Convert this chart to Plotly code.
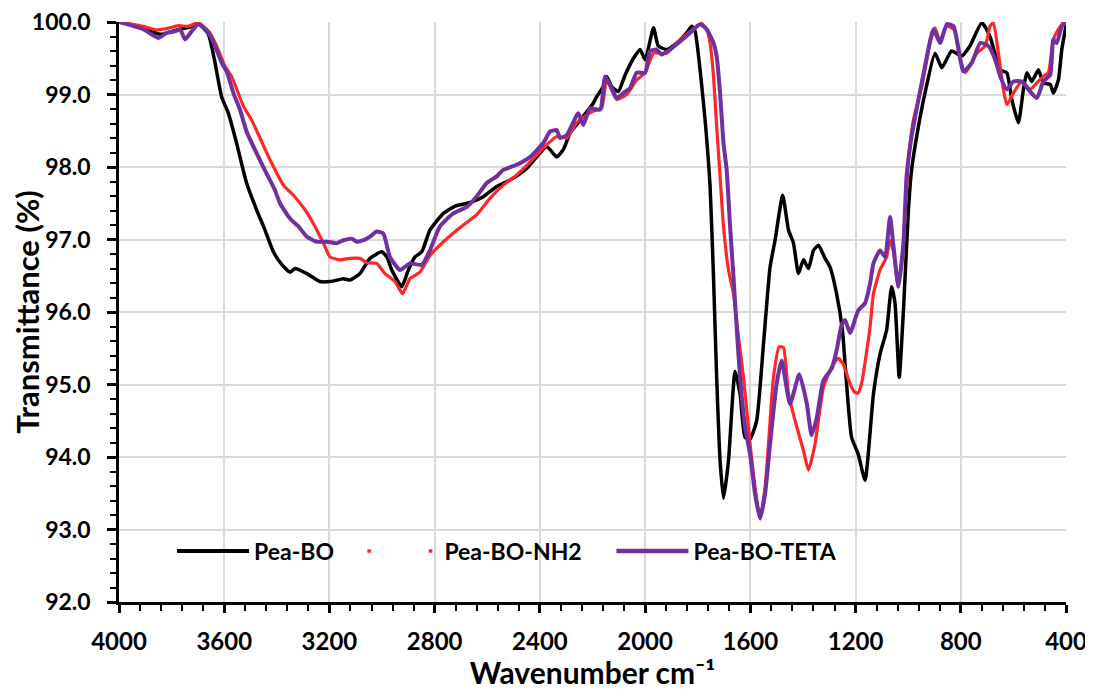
import plotly.graph_objects as go

# ---------------- data ----------------
wn_bo = [4000, 3908, 3844, 3800, 3768, 3730, 3698, 3660, 3635, 3610, 3584, 3553, 3515, 3477, 3445,
         3413, 3380, 3350, 3331, 3286, 3236, 3198, 3160, 3147, 3122, 3084, 3046, 3001, 2982, 2963,
         2925, 2900, 2875, 2849, 2818, 2767, 2722, 2665, 2615, 2564, 2513, 2450, 2374, 2336, 2311,
         2285, 2235, 2197, 2184, 2159, 2146, 2127, 2102, 2076, 2044, 2019, 2000, 1968, 1950, 1918,
         1880, 1842, 1823, 1810, 1791, 1772, 1753, 1740, 1728, 1715, 1702, 1683, 1658, 1639, 1620,
         1601, 1576, 1550, 1525, 1506, 1477, 1455, 1436, 1417, 1398, 1379, 1360, 1341, 1316, 1297,
         1272, 1250, 1234, 1215, 1190, 1164, 1132, 1107, 1082, 1063, 1050, 1034, 1018, 999, 987,
         961, 936, 898, 872, 835, 797, 765, 720, 689, 650, 625, 606, 581, 562, 549,
         530, 505, 486, 460, 448, 429, 416, 400]
t_bo = [100.0, 99.92, 99.83, 99.87, 99.90, 99.93, 99.98, 99.83, 99.44, 98.97, 98.74, 98.33, 97.78, 97.41, 97.13,
        96.83, 96.65, 96.55, 96.60, 96.53, 96.42, 96.42, 96.45, 96.46, 96.44, 96.53, 96.74, 96.83, 96.76, 96.58,
        96.35, 96.58, 96.76, 96.83, 97.13, 97.36, 97.46, 97.51, 97.59, 97.73, 97.82, 97.98, 98.28, 98.14, 98.24,
        98.47, 98.70, 98.88, 98.97, 99.11, 99.25, 99.11, 99.04, 99.27, 99.50, 99.62, 99.48, 99.92, 99.67, 99.62,
        99.71, 99.85, 99.94, 99.87, 99.34, 98.65, 97.73, 96.48, 95.10, 93.95, 93.43, 93.95, 95.18, 94.87, 94.27,
        94.25, 94.50, 95.56, 96.62, 96.99, 97.61, 97.13, 96.95, 96.53, 96.72, 96.60, 96.85, 96.92, 96.74, 96.62,
        96.25, 95.75, 95.00, 94.27, 94.04, 93.68, 94.87, 95.42, 95.75, 96.35, 96.12, 95.10, 96.02, 97.41, 97.96,
        98.56, 99.02, 99.57, 99.37, 99.60, 99.53, 99.67, 99.99, 99.80, 99.34, 99.30, 98.93, 98.61, 99.07, 99.30,
        99.18, 99.34, 99.16, 99.14, 99.02, 99.20, 99.62, 99.95]

wn_nh2 = [4000, 3908, 3857, 3806, 3775, 3737, 3698, 3654, 3629, 3597, 3572, 3527, 3496, 3464, 3426,
          3375, 3337, 3293, 3255, 3223, 3198, 3160, 3122, 3084, 3058, 3020, 2989, 2951, 2922, 2894,
          2856, 2818, 2754, 2691, 2641, 2589, 2539, 2488, 2437, 2387, 2336, 2298, 2260, 2222, 2184,
          2165, 2146, 2108, 2070, 2032, 2000, 1968, 1943, 1918, 1880, 1842, 1804, 1785, 1766, 1753,
          1740, 1728, 1715, 1702, 1683, 1664, 1645, 1626, 1601, 1582, 1563, 1544, 1531, 1512, 1490,
          1474, 1455, 1423, 1398, 1379, 1354, 1322, 1291, 1266, 1245, 1225, 1205, 1190, 1175, 1160,
          1145, 1132, 1107, 1082, 1069, 1057, 1037, 1018, 999, 980, 948, 917, 898, 879, 853,
          827, 802, 783, 758, 739, 707, 689, 676, 657, 638, 625, 600, 568, 536, 511,
          486, 467, 448, 429, 410, 400]
t_nh2 = [100.0, 99.94, 99.89, 99.92, 99.95, 99.94, 99.99, 99.85, 99.67, 99.39, 99.25, 98.84, 98.65, 98.40, 98.10,
         97.75, 97.61, 97.41, 97.18, 96.95, 96.76, 96.72, 96.74, 96.74, 96.68, 96.67, 96.53, 96.42, 96.25, 96.46,
         96.55, 96.78, 97.01, 97.20, 97.34, 97.57, 97.75, 97.89, 98.07, 98.26, 98.42, 98.40, 98.61, 98.72, 98.79,
         98.81, 99.20, 98.93, 99.00, 99.20, 99.30, 99.57, 99.57, 99.57, 99.71, 99.83, 99.94, 99.98, 99.90, 99.71,
         99.25, 98.56, 97.87, 97.18, 96.58, 96.25, 95.65, 95.10, 94.18, 93.58, 93.15, 93.58, 94.18, 95.10, 95.52,
         95.51, 94.87, 94.41, 94.09, 93.82, 94.18, 94.96, 95.24, 95.36, 95.27, 95.05, 94.90, 94.88, 95.05, 95.40,
         95.79, 96.25, 96.58, 96.76, 96.99, 96.85, 96.35, 96.95, 98.10, 98.65, 99.11, 99.71, 99.92, 99.73, 99.94,
         99.90, 99.48, 99.30, 99.44, 99.57, 99.67, 99.94, 99.99, 99.57, 99.07, 98.86, 99.02, 99.18, 99.07, 99.16,
         99.25, 99.30, 99.76, 99.90, 99.99, 100.0]

wn_teta = [4000, 3908, 3851, 3819, 3787, 3768, 3749, 3724, 3698, 3660, 3635, 3610, 3591, 3565, 3540,
           3515, 3477, 3439, 3407, 3388, 3350, 3318, 3286, 3248, 3210, 3172, 3147, 3115, 3096, 3071,
           3046, 3020, 2995, 2970, 2932, 2894, 2849, 2818, 2780, 2729, 2678, 2641, 2602, 2564, 2539,
           2488, 2437, 2387, 2361, 2336, 2323, 2298, 2254, 2235, 2209, 2171, 2152, 2127, 2108, 2083,
           2057, 2032, 2000, 1981, 1956, 1937, 1905, 1867, 1835, 1791, 1766, 1740, 1728, 1715, 1702,
           1690, 1677, 1664, 1652, 1639, 1620, 1601, 1582, 1563, 1544, 1525, 1500, 1481, 1449, 1414,
           1385, 1367, 1347, 1322, 1291, 1272, 1253, 1240, 1221, 1190, 1164, 1145, 1132, 1107, 1088,
           1069, 1057, 1037, 1018, 1006, 987, 961, 936, 904, 879, 853, 827, 790, 758, 726,
           695, 669, 650, 625, 600, 568, 543, 511, 486, 460, 448, 435, 416, 400]
t_teta = [100.0, 99.90, 99.78, 99.85, 99.87, 99.90, 99.76, 99.87, 99.97, 99.85, 99.67, 99.44, 99.32, 99.02, 98.79,
          98.49, 98.19, 97.91, 97.68, 97.50, 97.29, 97.18, 97.04, 96.97, 96.97, 96.95, 96.99, 97.01, 96.97, 96.99,
          97.04, 97.11, 97.08, 96.76, 96.58, 96.67, 96.65, 96.85, 97.18, 97.36, 97.45, 97.59, 97.78, 97.87, 97.96,
          98.03, 98.14, 98.33, 98.49, 98.51, 98.40, 98.44, 98.74, 98.58, 98.81, 98.79, 99.25, 99.09, 98.95, 99.02,
          99.09, 99.30, 99.30, 99.60, 99.62, 99.55, 99.62, 99.73, 99.83, 99.97, 99.90, 99.71, 99.53, 99.02, 98.33,
          97.96, 97.18, 96.48, 95.79, 95.10, 94.41, 94.04, 93.49, 93.15, 93.49, 94.18, 95.01, 95.33, 94.73, 95.14,
          94.73, 94.30, 94.55, 95.06, 95.22, 95.47, 95.82, 95.89, 95.71, 96.02, 96.12, 96.39, 96.67, 96.85, 96.76,
          97.31, 96.95, 96.35, 96.95, 97.87, 98.42, 98.93, 99.39, 99.90, 99.71, 99.97, 99.94, 99.32, 99.44, 99.71,
          99.67, 99.48, 99.25, 99.07, 99.18, 99.18, 99.07, 98.95, 99.18, 99.27, 99.76, 99.71, 99.94, 99.99]

series_names = ["Pea-BO", "Pea-BO-NH2", "Pea-BO-TETA"]
x_ticks = [4000, 3600, 3200, 2800, 2400, 2000, 1600, 1200, 800, 400]
y_ticks = [92, 93, 94, 95, 96, 97, 98, 99, 100]

BLACK = "#000000"
RED = "#ff2626"
PURPLE = "#7030a0"
FONT = "Lato"
LEG_FONT = dict(family=FONT, size=23, color="black", weight="bold")

fig = go.Figure()
fig.add_trace(go.Scatter(x=wn_bo, y=t_bo, mode="lines", name=series_names[0],
                         line=dict(color=BLACK, width=3.5, shape="spline", smoothing=0.5), showlegend=False))
fig.add_trace(go.Scatter(x=wn_nh2, y=t_nh2, mode="lines", name=series_names[1],
                         line=dict(color=RED, width=3.2, shape="spline", smoothing=0.5), showlegend=False))
fig.add_trace(go.Scatter(x=wn_teta, y=t_teta, mode="lines", name=series_names[2],
                         line=dict(color=PURPLE, width=4, shape="spline", smoothing=0.5), showlegend=False))

# legend entries (three separately placed legends)
fig.add_trace(go.Scatter(x=[None], y=[None], mode="lines", name=series_names[0],
                         line=dict(color=BLACK, width=4), legend="legend"))
fig.add_trace(go.Scatter(x=[None], y=[None], mode="lines", name=series_names[1],
                         line=dict(color=RED, width=3.5, dash="3.5px,58px"), legend="legend2"))
fig.add_trace(go.Scatter(x=[None], y=[None], mode="lines", name=series_names[2],
                         line=dict(color=PURPLE, width=4.5), legend="legend3"))

leg_common = dict(orientation="h", y=0.088, xanchor="left", yanchor="middle",
                  itemwidth=72, bgcolor="rgba(0,0,0,0)", font=LEG_FONT)

# the page body adds an 8px offset, so the figure is 8px smaller and margins compensate
fig.update_layout(
    width=1085, height=682,
    margin=dict(l=111, r=27, t=14, b=88),
    paper_bgcolor="white", plot_bgcolor="white",
    font=dict(family=FONT, color="black", size=22, weight="bold"),
    legend=dict(x=0.056, **leg_common),
    legend2=dict(x=0.257, **leg_common),
    legend3=dict(x=0.520, **leg_common),
    xaxis=dict(range=[4000, 400], autorange=False, automargin=False,
               tickmode="array", tickvals=x_ticks, ticktext=[str(v) for v in x_ticks],
               showgrid=True, gridcolor="#d9d9d9", gridwidth=1.5,
               showline=True, linecolor="black", linewidth=2.5,
               ticks="outside", ticklen=8, tickwidth=2.5, tickcolor="black",
               ticklabelstandoff=8, ticklabeloverflow="allow",
               minor=dict(dtick=80, tick0=400, ticks="outside", ticklen=6, tickwidth=2, tickcolor="black", showgrid=False),
               zeroline=False,
               tickfont=dict(family=FONT, size=24, color="black", weight="bold"),
               title=dict(text="Wavenumber cm⁻¹", standoff=0,
                          font=dict(family=FONT, size=30, color="black", weight="bold"))),
    yaxis=dict(range=[92, 100], autorange=False, automargin=False,
               tickmode="array", tickvals=y_ticks, ticktext=[f"{v:.1f}" for v in y_ticks],
               showgrid=True, gridcolor="#d9d9d9", gridwidth=1.5,
               showline=True, linecolor="black", linewidth=2.5,
               ticks="outside", ticklen=9, tickwidth=2.5, tickcolor="black",
               ticklabelstandoff=12, ticklabeloverflow="allow",
               minor=dict(dtick=0.2, tick0=92, ticks="outside", ticklen=6, tickwidth=2, tickcolor="black", showgrid=False),
               zeroline=False,
               tickfont=dict(family=FONT, size=23, color="black", weight="bold"),
               title=dict(text="Transmittance (%)", standoff=8,
                          font=dict(family=FONT, size=31, color="black", weight="bold"))),
)

fig.write_html("out.html")
